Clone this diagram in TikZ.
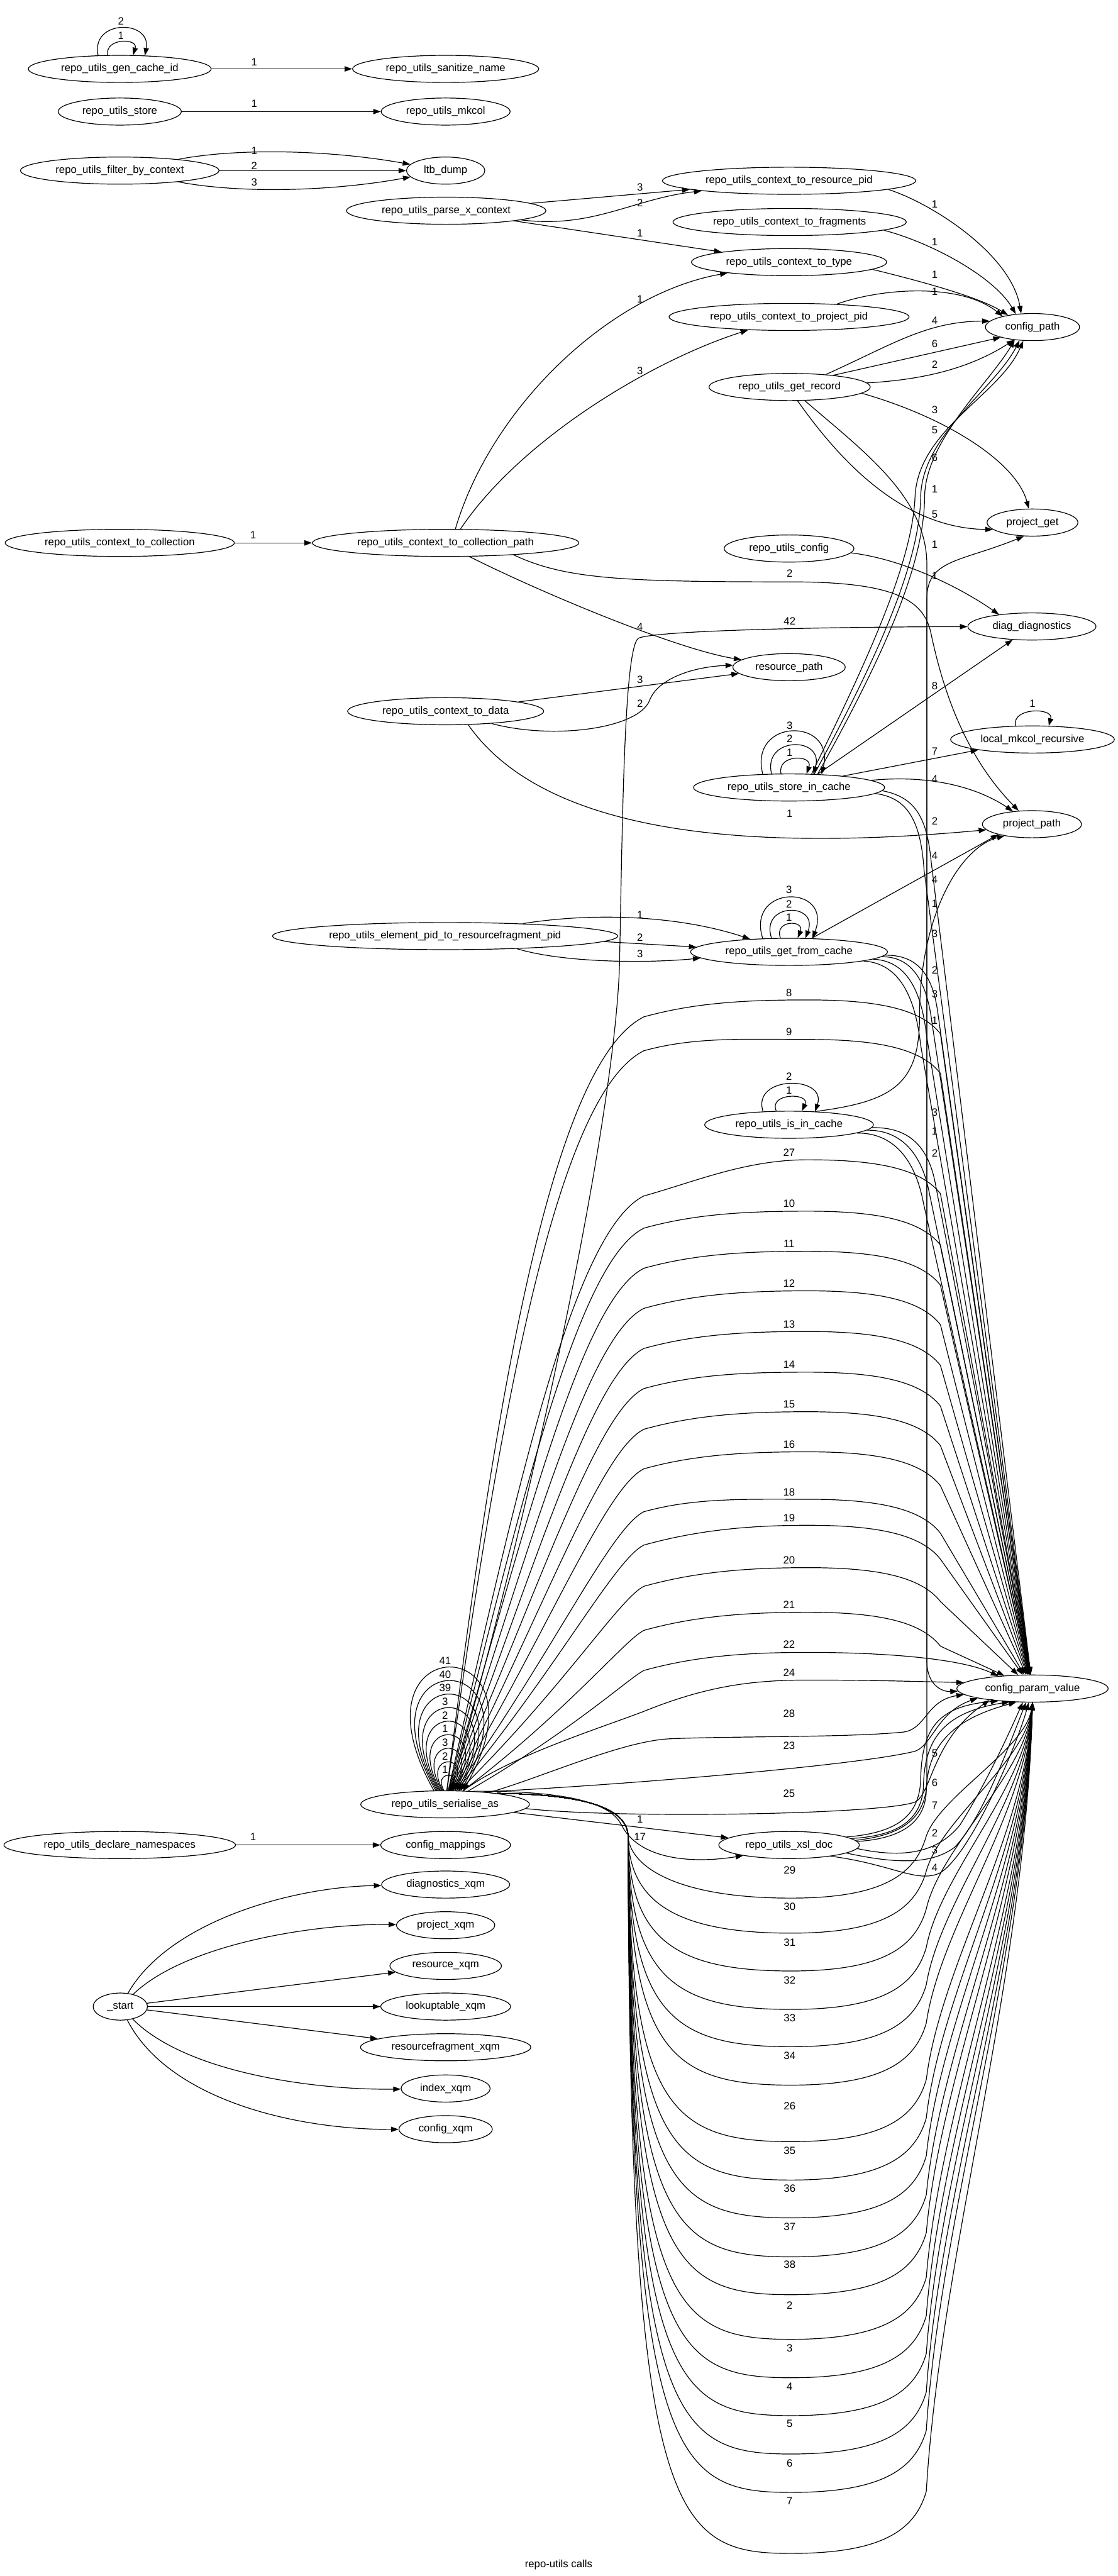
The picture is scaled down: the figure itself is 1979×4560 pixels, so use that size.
\documentclass[tikz,border=0pt]{standalone}
\usepackage{fontspec}
\setmainfont{Liberation Sans}
\usetikzlibrary{shapes.geometric,arrows.meta,calc}

\tikzset{
  fn/.style={ellipse, draw, line width=1pt, inner xsep=8pt, inner ysep=4pt,
    minimum height=36pt, font=\fontsize{14}{16}\selectfont},
  call/.style={-{Triangle[length=10pt,width=7pt]}, line width=1pt},
  cnt/.style={inner sep=0pt, font=\fontsize{14}{16}\selectfont},
}

\begin{document}
\begin{tikzpicture}[x=0.75pt, y=-0.75pt]
\fill[white] (0,0) rectangle (1979,4560);
\useasboundingbox (0,0) rectangle (1979,4560);

% first rank
\node[fn] (gci) at (212,122) {repo\_utils\_gen\_cache\_id};
\node[fn] (rst) at (212,197.5) {repo\_utils\_store};
\node[fn] (fbc) at (212,302) {repo\_utils\_filter\_by\_context};
\node[fn] (ctc) at (212,961) {repo\_utils\_context\_to\_collection};
\node[fn] (dns) at (212,3266) {repo\_utils\_declare\_namespaces};
\node[fn] (start) at (213,3552) {\_start};

% second rank
\node[fn] (san) at (789,122) {repo\_utils\_sanitize\_name};
\node[fn] (mkc) at (789,197.5) {repo\_utils\_mkcol};
\node[fn] (ltb) at (789,302) {ltb\_dump};
\node[fn] (pxc) at (790,373) {repo\_utils\_parse\_x\_context};
\node[fn] (ccp) at (789,961) {repo\_utils\_context\_to\_collection\_path};
\node[fn] (ctd) at (789,1259) {repo\_utils\_context\_to\_data};
\node[fn] (epr) at (788,1657) {repo\_utils\_element\_pid\_to\_resourcefragment\_pid};
\node[fn] (sa) at (788,3194) {repo\_utils\_serialise\_as};
\node[fn] (cmap) at (789,3266) {config\_mappings};
\node[fn] (dxq) at (789,3336) {diagnostics\_xqm};
\node[fn] (pxq) at (789,3408) {project\_xqm};
\node[fn] (rxq) at (789,3480) {resource\_xqm};
\node[fn] (lxq) at (789,3552) {lookuptable\_xqm};
\node[fn] (rfx) at (789,3624) {resourcefragment\_xqm};
\node[fn] (ixq) at (789,3697) {index\_xqm};
\node[fn] (cxq) at (789,3769) {config\_xqm};

% third rank
\node[fn] (crp) at (1397,320) {repo\_utils\_context\_to\_resource\_pid};
\node[fn] (cfr) at (1398,393) {repo\_utils\_context\_to\_fragments};
\node[fn] (cty) at (1397,464) {repo\_utils\_context\_to\_type};
\node[fn] (cpp) at (1397,561) {repo\_utils\_context\_to\_project\_pid};
\node[fn] (grec) at (1398,685) {repo\_utils\_get\_record};
\node[fn] (rcfg) at (1397,971) {repo\_utils\_config};
\node[fn] (rpath) at (1397,1181) {resource\_path};
\node[fn] (sic) at (1397,1394) {repo\_utils\_store\_in\_cache};
\node[fn] (gfc) at (1397,1685) {repo\_utils\_get\_from\_cache};
\node[fn] (iic) at (1397,1991) {repo\_utils\_is\_in\_cache};
\node[fn] (xsl) at (1397,3266) {repo\_utils\_xsl\_doc};

% fourth rank
\node[fn] (cpath) at (1828,579) {config\_path};
\node[fn] (pget) at (1828,925) {project\_get};
\node[fn] (diag) at (1827,1109) {diag\_diagnostics};
\node[fn] (lmr) at (1828,1309) {local\_mkcol\_recursive};
\node[fn] (ppath) at (1827,1459) {project\_path};
\node[fn] (cpv) at (1828,2989) {config\_param\_value};

\node[cnt] (title) at (989,4540) {repo-utils calls};

% self loops
\draw[call] (gci.131) .. controls (185,67) and (245,67) .. (gci.46);
\draw[call] (gci.148) .. controls (160,34) and (268,34) .. (gci.28);
\node[cnt] (gl1) at (214,63) {1};
\node[cnt] (gl2) at (214,38) {2};

\draw[call] (sic.120) .. controls (1375,1335) and (1440,1335) .. (sic.38);
\draw[call] (sic.142) .. controls (1350,1303) and (1460,1303) .. (sic.29);
\draw[call] (sic.153) .. controls (1325,1270) and (1480,1270) .. (sic.22);
\foreach \lab/\ly [count=\i] in {1/1332, 2/1308, 3/1284}
  \node[cnt] (sl\i) at (1398,\ly) {\lab};

\draw[call] (gfc.122) .. controls (1370,1628) and (1425,1628) .. (gfc.58);
\draw[call] (gfc.142) .. controls (1345,1597) and (1450,1597) .. (gfc.40);
\draw[call] (gfc.153) .. controls (1320,1565) and (1475,1565) .. (gfc.30);
\foreach \lab/\ly [count=\i] in {1/1624, 2/1600, 3/1575}
  \node[cnt] (gfl\i) at (1397,\ly) {\lab};

\draw[call] (iic.133) .. controls (1360,1934) and (1435,1934) .. (iic.47);
\draw[call] (iic.153) .. controls (1330,1903) and (1465,1903) .. (iic.27);
\foreach \lab/\ly [count=\i] in {1/1930, 2/1906}
  \node[cnt] (il\i) at (1397,\ly) {\lab};

\draw[call] (lmr.141) .. controls (1790,1252) and (1866,1252) .. (lmr.40);
\node[cnt] (ll1) at (1828,1246) {1};

\foreach \lab [count=\k] in {41,40,39,3,2,1,3,2,1} {
  \pgfmathsetmacro\h{218-24.1*(\k-1)}
  \pgfmathsetmacro\la{129-4.2*(\k-1)}
  \pgfmathsetmacro\ra{37+4.6*(\k-1)}
  \draw[call] (sa.\la) .. controls ($(sa.\la)+(-0.75*\h,-1.33*\h)$)
    and ($(sa.\ra)+(0.75*\h,-1.33*\h)$) .. (sa.\ra);
  \node[cnt] (sal\k) at (788,3158-\h) {\lab};
}

% first to second rank
\draw[call] (gci) -- (san);
\draw[call] (rst) -- (mkc);
\draw[call] (fbc) .. controls (420,262) and (580,265) .. (ltb);
\draw[call] (fbc) -- (ltb);
\draw[call] (fbc) .. controls (420,342) and (580,340) .. (ltb);
\draw[call] (ctc) -- (ccp);
\draw[call] (dns) -- (cmap);
\draw[call] (start) .. controls (300,3400) and (520,3340) .. (dxq);
\draw[call] (start) .. controls (330,3440) and (560,3405) .. (pxq);
\draw[call] (start) -- (rxq);
\draw[call] (start) -- (lxq);
\draw[call] (start) -- (rfx);
\draw[call] (start) .. controls (330,3670) and (560,3700) .. (ixq);
\draw[call] (start) .. controls (300,3720) and (530,3770) .. (cxq);
\foreach \lab/\x/\y [count=\i] in {1/450/110, 1/450/183, 1/450/267, 2/450/293,
    3/450/322, 1/448/947, 1/448/3252}
  \node[cnt] (ea\i) at (\x,\y) {\lab};

% second to third rank
\draw[call] (pxc) -- (crp);
\draw[call] (pxc) .. controls (1050,405) and (1120,352) .. (crp);
\draw[call] (pxc) -- (cty);
\draw[call] (ccp.55) .. controls (870,720) and (1080,520) .. (cty);
\draw[call] (ccp.43) .. controls (920,780) and (1150,640) .. (cpp);
\draw[call] (ccp.-30) .. controls (960,1050) and (1200,1150) .. (rpath);
\draw[call] (ctd) -- (rpath);
\draw[call] (ctd.-15) .. controls (980,1310) and (1130,1290) .. (1150,1240)
  .. controls (1165,1200) and (1230,1180) .. (rpath.178);
\draw[call] (epr) .. controls (1050,1615) and (1200,1620) .. (gfc);
\draw[call] (epr.-2.5) -- (gfc.177);
\draw[call] (epr.-10.5) .. controls (1000,1705) and (1150,1705) .. (gfc.184);
\draw[call] (sa) -- (xsl);
\draw[call] (sa.25) .. controls (1000,3170) and (1080,3190) .. (1100,3230)
  .. controls (1130,3290) and (1220,3300) .. (xsl.193);
\foreach \lab/\y [count=\i] in {3/332, 2/359, 1/413, 1/530, 3/657, 4/1110, 3/1203,
    2/1245, 1/1619, 2/1660, 3/1688, 1/3220, 17/3252}
  \node[cnt] (eb\i) at (1133,\y) {\lab};

% second to fourth rank
\draw[call] (ccp.-10) .. controls (1000,1025) and (1100,1030) .. (1400,1030)
  .. controls (1580,1030) and (1635,1060) .. (1648,1120)
  .. controls (1665,1200) and (1700,1330) .. (ppath);
\draw[call] (ctd.-31) .. controls (960,1470) and (1300,1510) .. (ppath.187);
\draw[call] (sa.68) .. controls (960,2600) and (1092,1950) .. (1097,1700)
  .. controls (1102,1450) and (1105,1150) .. (1130,1130)
  .. controls (1150,1118) and (1400,1110) .. (diag);
\foreach \lab/\y [count=\i] in {2/1015, 42/1099, 1/1440}
  \node[cnt] (ec\i) at (1398,\y) {\lab};

% serialise_as over the top
\foreach \lab/\py/\ky in {8/1770/1800, 9/1840/1860, 27/2053/2117, 10/2144/2174,
    11/2215/2245, 12/2285/2316, 13/2357/2387, 14/2429/2458, 15/2499/2530,
    16/2570/2600, 18/2654/2676, 19/2700/2735, 20/2775/2808, 21/2854/2886} {
  \draw[call] (sa) .. controls ({1040-0.12*(3170-\ky)},{3170-0.5*(3170-\ky)})
      and ({1140-0.12*(3170-\ky)},{\ky+0.06*(3170-\ky)}) .. (1140,\ky)
    .. controls (1230,\ky-25) and (1320,\py) .. (1430,\py)
    .. controls (1550,\py) and (1630,\py+15) .. (1665,\py+60) -- (cpv);
  \node[cnt] (tp\lab) at (1397,\py-13) {\lab};
}
\draw[call] (sa) .. controls (1014,3063) and (1114,2970) .. (1140,2957)
  .. controls (1230,2932) and (1320,2925) .. (1430,2925)
  .. controls (1560,2925) and (1700,2935) .. (cpv.160);
\node[cnt] (tp22) at (1397,2911) {22};
\draw[call] (sa) .. controls (900,3110) and (1060,3060) .. (1141,3029)
  .. controls (1250,2985) and (1330,2974) .. (1430,2974)
  .. controls (1550,2974) and (1640,2977) .. (cpv.175);
\node[cnt] (tp24) at (1397,2961) {24};
\draw[call] (sa) .. controls (950,3150) and (1100,3082) .. (1185,3078)
  .. controls (1300,3073) and (1500,3076) .. (1600,3066)
  .. controls (1640,3060) and (1640,3010) .. (cpv.185);
\node[cnt] (tp28) at (1397,3033) {28};
\draw[call] (sa.18) .. controls (1100,3160) and (1520,3125) .. (1620,3100)
  .. controls (1650,3090) and (1660,3030) .. (cpv.190);
\node[cnt] (tp23) at (1397,3090) {23};
\draw[call] (sa.-3) .. controls (1100,3220) and (1560,3212) .. (1620,3190)
  .. controls (1650,3175) and (1650,3080) .. (cpv.195);
\node[cnt] (tp25) at (1397,3175) {25};

% serialise_as under the bottom
\foreach \lab/\ly/\by in {29/3311/3360, 30/3375/3422, 31/3439/3489, 32/3505/3557,
    33/3572/3623, 34/3639/3691, 26/3728/3791, 35/3807/3859, 36/3874/3926,
    37/3942/3995, 38/4009/4062, 2/4081/4141, 3/4157/4209, 4/4224/4276,
    5/4290/4344, 6/4360/4412, 7/4427/4520} {
  \draw[call] (sa.12) .. controls (1000,3176) and (1110,3190) .. (1112,3250)
    .. controls (1114,\by-60) and (1190,\by) .. (1400,\by)
    .. controls (1560,\by) and (1620,\by-40) .. (1640,\by-110)
    .. controls ({1665},{\by-110-0.3*(\by-3123)}) and ({1815},{3013+0.35*(\by-3123)}) .. (cpv.south);
  \node[cnt] (bt\lab) at (1398,\ly) {\lab};
}

% third to fourth rank
\draw[call] (crp.-5) .. controls (1650,360) and (1790,450) .. (cpath.130);
\draw[call] (cfr.-5) .. controls (1650,430) and (1760,490) .. (cpath.142);
\draw[call] (cty.-5) .. controls (1660,505) and (1740,530) .. (cpath.154);
\draw[call] (cpp.15) .. controls (1560,510) and (1700,500) .. (cpath.160);
\draw[call] (grec.19) .. controls (1580,610) and (1640,569) .. (cpath.172);
\draw[call] (grec.15) -- (cpath.198);
\draw[call] (grec.3) .. controls (1640,672) and (1720,650) .. (cpath.215);
\draw[call] (grec.-5) .. controls (1680,740) and (1800,820) .. (pget);
\draw[call] (grec.-60) .. controls (1490,820) and (1600,935) .. (pget.190);
\draw[call] (grec.-42) .. controls (1530,800) and (1641,880) .. (1641,1000)
  -- (1641,2940) .. controls (1641,2985) and (1670,2995) .. (cpv.182);
\draw[call] (rcfg.-4) .. controls (1600,990) and (1700,1040) .. (diag.160);
\draw[call] (sic.31) .. controls (1530,1180) and (1615,1000) .. (1620,880)
  .. controls (1625,760) and (1770,700) .. (cpath.236);
\draw[call] (sic.28) .. controls (1550,1170) and (1628,1000) .. (1630,880)
  .. controls (1632,770) and (1760,690) .. (cpath.226);
\draw[call] (sic.25) .. controls (1565,1160) and (1636,1000) .. (1637,880)
  .. controls (1638,780) and (1750,680) .. (cpath.216);
\draw[call] (sic.25) -- (diag);
\draw[call] (sic.12) -- (lmr);
\draw[call] (sic.5) .. controls (1660,1370) and (1740,1400) .. (ppath);
\draw[call] (sic.-2) .. controls (1615,1410) and (1640,1440) .. (1648,1520) -- (cpv);
\draw[call] (sic.-4) .. controls (1605,1412) and (1630,1450) .. (1636,1540) -- (cpv);
\draw[call] (gfc.31) -- (ppath.197);
\draw[call] (gfc.-2) .. controls (1620,1690) and (1650,1720) .. (1660,1790) -- (cpv);
\draw[call] (gfc.-3) .. controls (1610,1693) and (1640,1730) .. (1650,1810) -- (cpv);
\draw[call] (gfc.-5) .. controls (1600,1700) and (1630,1745) .. (1640,1830) -- (cpv);
\draw[call] (gfc.-7) .. controls (1590,1705) and (1620,1760) .. (1630,1850) -- (cpv);
\draw[call] (iic.27) .. controls (1580,1950) and (1628,1920) .. (1628,1800)
  .. controls (1628,1620) and (1700,1500) .. (ppath.203);
\draw[call] (iic.-2) .. controls (1600,1995) and (1640,2020) .. (1655,2090) -- (cpv);
\draw[call] (iic.-4) .. controls (1590,2000) and (1630,2035) .. (1645,2110) -- (cpv);
\draw[call] (iic.-7) .. controls (1580,2005) and (1620,2050) .. (1635,2130) -- (cpv);
\draw[call] (xsl.4) .. controls (1580,3250) and (1641,3230) .. (1641,3150)
  -- (1641,1060) .. controls (1641,990) and (1700,995) .. (pget.238);
\draw[call] (xsl.8) .. controls (1580,3245) and (1628,3220) .. (1630,3150)
  .. controls (1632,3060) and (1660,3020) .. (cpv.200);
\draw[call] (xsl.6) .. controls (1585,3250) and (1633,3225) .. (1635,3160)
  .. controls (1637,3070) and (1680,3030) .. (cpv.210);
\draw[call] (xsl.3) .. controls (1590,3255) and (1638,3230) .. (1640,3170)
  .. controls (1642,3080) and (1700,3040) .. (cpv.220);
\draw[call] (xsl.-3) .. controls (1600,3290) and (1660,3280) .. (1700,3230)
  .. controls (1750,3150) and (1790,3060) .. (cpv.235);
\draw[call] (xsl.-8) .. controls (1590,3300) and (1650,3300) .. (1690,3270)
  .. controls (1740,3220) and (1790,3080) .. (cpv.245);
\draw[call] (xsl.-15) .. controls (1580,3300) and (1625,3335) .. (1665,3315)
  .. controls (1720,3280) and (1800,3090) .. (cpv.255);
\foreach \lab/\y [count=\i] in {1/361, 1/428, 1/486, 1/516, 4/568, 6/609, 2/645,
    3/725, 5/761, 6/810, 1/866, 5/911, 1/964, 1/1019, 8/1214, 7/1330, 4/1379,
    2/1453, 4/1515, 4/1557, 1/1599, 3/1653, 2/1717, 3/1760, 1/1806, 3/1969,
    1/2003, 2/2041, 5/3104, 6/3156, 7/3196, 2/3245, 3/3275, 4/3306}
  \node[cnt] (ed\i) at (1655,\y) {\lab};

\end{tikzpicture}
\end{document}
